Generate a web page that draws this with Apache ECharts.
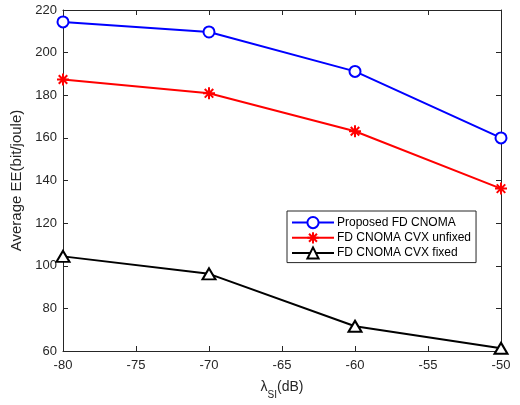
<!DOCTYPE html>
<html>
<head>
<meta charset="utf-8">
<script src="https://cdn.jsdelivr.net/npm/echarts@6/dist/echarts.min.js"></script>
<style>
  html, body { margin: 0; padding: 0; background: #fff; }
  #chart { width: 520px; height: 405px; }
</style>
</head>
<body>
<div id="chart"></div>
<script>
// Self-interference level (dB) on the x axis
const lambdaSI = [-80, -70, -60, -50];

// Average energy efficiency (bit/joule) per scheme
const proposedFD = [214.4, 209.7, 191.2, 160.0];
const cvxUnfixed = [187.4, 180.9, 163.1, 136.2];
const cvxFixed   = [104.4, 96.2, 71.6, 61.3];

const seriesNames = ['Proposed FD CNOMA', 'FD CNOMA CVX unfixed', 'FD CNOMA CVX fixed'];

const xTicks = { min: -80, max: -50, step: 5 };
const yTicks = { min: 60, max: 220, step: 20 };

const INK = '#262626';
const FONT = '"Liberation Sans", Arial, Helvetica, sans-serif';

// asterisk marker: vertical, horizontal and two diagonal strokes
const asterisk = 'path://M10,0L10,20M0,10L20,10M2.9,2.9L17.1,17.1M2.9,17.1L17.1,2.9';

function pairs(ys) {
  return lambdaSI.map((x, i) => [x, ys[i]]);
}

const chart = echarts.init(document.getElementById('chart'), null, { renderer: 'canvas' });

const axisCommon = {
  axisLine: { show: true, onZero: false, lineStyle: { color: INK, width: 1 } },
  axisTick: { show: true, inside: true, length: 5, lineStyle: { color: INK, width: 1 } },
  splitLine: { show: false }
};

chart.setOption({
  backgroundColor: '#ffffff',
  animation: false,
  textStyle: { fontFamily: FONT },
  grid: { left: 63, right: 19, top: 10, bottom: 51, containLabel: false },
  xAxis: [
    Object.assign({
      type: 'value',
      min: xTicks.min, max: xTicks.max, interval: xTicks.step,
      position: 'bottom',
      axisLabel: { color: INK, fontSize: 13, margin: 8, fontFamily: FONT },
      name: '{l|λ}{s|SI}{l|(dB)}',
      nameLocation: 'middle',
      nameGap: 29,
      nameTextStyle: {
        color: INK, fontFamily: FONT,
        rich: {
          l: { fontSize: 14, color: INK, fontFamily: FONT, verticalAlign: 'top', lineHeight: 20 },
          s: { fontSize: 10, color: INK, fontFamily: FONT, verticalAlign: 'bottom', lineHeight: 20 }
        }
      }
    }, axisCommon),
    Object.assign({
      type: 'value',
      min: xTicks.min, max: xTicks.max, interval: xTicks.step,
      position: 'top',
      axisLabel: { show: false }
    }, axisCommon)
  ],
  yAxis: [
    Object.assign({
      type: 'value',
      min: yTicks.min, max: yTicks.max, interval: yTicks.step,
      position: 'left',
      axisLabel: { color: INK, fontSize: 13, margin: 6, fontFamily: FONT },
      name: 'Average EE(bit/joule)',
      nameLocation: 'middle',
      nameGap: 26,
      nameTextStyle: { color: INK, fontSize: 15, fontFamily: FONT }
    }, axisCommon),
    Object.assign({
      type: 'value',
      min: yTicks.min, max: yTicks.max, interval: yTicks.step,
      position: 'right',
      axisLabel: { show: false }
    }, axisCommon)
  ],
  legend: {
    orient: 'vertical',
    left: 287,
    top: 211,
    padding: [5, 5, 3, 4],
    itemGap: 2,
    itemWidth: 42,
    itemHeight: 14,
    backgroundColor: '#ffffff',
    borderColor: INK,
    borderWidth: 1,
    borderRadius: 0,
    textStyle: { color: '#000', fontSize: 12, fontFamily: FONT, padding: [0, 0, 0, -2] },
    data: seriesNames
  },
  series: [
    {
      name: seriesNames[0],
      type: 'line',
      data: pairs(proposedFD),
      symbol: 'circle',
      symbolSize: 11,
      showAllSymbol: true,
      lineStyle: { color: '#0000ff', width: 2 },
      itemStyle: { color: '#ffffff', borderColor: '#0000ff', borderWidth: 2 },
      emphasis: { disabled: true }
    },
    {
      name: seriesNames[1],
      type: 'line',
      data: pairs(cvxUnfixed),
      symbol: asterisk,
      symbolSize: 12,
      lineStyle: { color: '#ff0000', width: 2 },
      itemStyle: { color: '#ff0000', borderColor: '#ff0000', borderWidth: 2 },
      emphasis: { disabled: true }
    },
    {
      name: seriesNames[2],
      type: 'line',
      data: pairs(cvxFixed),
      symbol: 'triangle',
      symbolSize: [13, 11],
      lineStyle: { color: '#000000', width: 2 },
      itemStyle: { color: '#ffffff', borderColor: '#000000', borderWidth: 2 },
      emphasis: { disabled: true }
    }
  ]
});
</script>
</body>
</html>
